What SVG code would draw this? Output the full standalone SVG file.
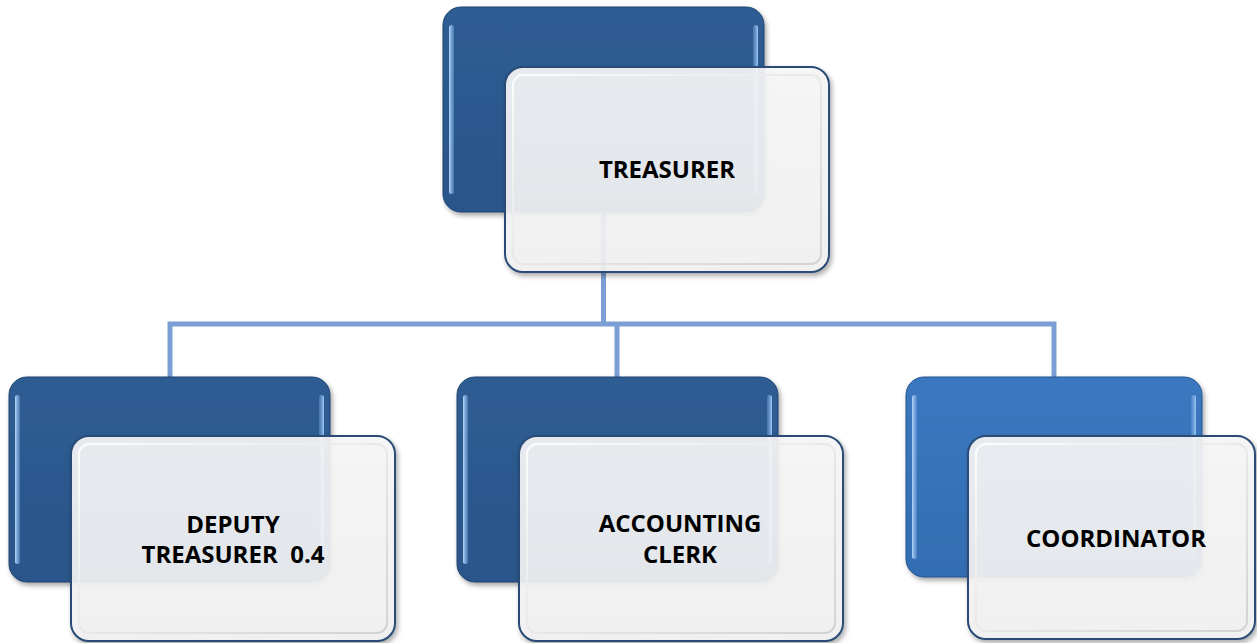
<svg xmlns="http://www.w3.org/2000/svg" width="1257" height="643" viewBox="0 0 1257 643">
<style>
.dark{fill:url(#darkGrad);stroke:#1f4471;stroke-width:1}
.dark2{fill:url(#darkGrad2);stroke:#24558f;stroke-width:1}
.hl{fill:url(#hlGrad)}
.hr{fill:url(#hrGrad)}
.light{fill:url(#lightGrad);fill-opacity:0.9;stroke:#2a4c75;stroke-width:2}
.bevel{fill:none;stroke:url(#bevelGrad);stroke-width:2;opacity:0.9}
.conn{fill:none;stroke:#7b9fd4;stroke-width:5}
.t{font-family:"Open Sans","Liberation Sans",sans-serif;font-weight:bold;font-size:24px;fill:#000;text-anchor:middle;white-space:pre}
</style>
<defs>
<linearGradient id="darkGrad" x1="0" y1="0" x2="0" y2="1">
<stop offset="0" stop-color="#2e5d93"/>
<stop offset="1" stop-color="#29558a"/>
</linearGradient>
<linearGradient id="darkGrad2" x1="0" y1="0" x2="0" y2="1">
<stop offset="0" stop-color="#3b78c0"/>
<stop offset="1" stop-color="#336db2"/>
</linearGradient>
<linearGradient id="hlGrad" x1="0" y1="0" x2="1" y2="0">
<stop offset="0" stop-color="#b5d7fb"/>
<stop offset="1" stop-color="#6a9ad6" stop-opacity="0.5"/>
</linearGradient>
<linearGradient id="hrGrad" x1="0" y1="0" x2="1" y2="0">
<stop offset="0" stop-color="#6a9ad6" stop-opacity="0.4"/>
<stop offset="1" stop-color="#9cc8f6"/>
</linearGradient>
<linearGradient id="lightGrad" x1="0" y1="0" x2="0" y2="1">
<stop offset="0" stop-color="#f8f8f8"/>
<stop offset="1" stop-color="#f3f3f3"/>
</linearGradient>
<linearGradient id="bevelGrad" x1="0" y1="0" x2="1" y2="1">
<stop offset="0" stop-color="#ffffff"/>
<stop offset="0.6" stop-color="#e2e2e2"/>
<stop offset="1" stop-color="#cfcfcf"/>
</linearGradient>
<filter id="shadow" x="-10%" y="-10%" width="125%" height="125%">
<feDropShadow dx="2" dy="3" stdDeviation="2.5" flood-color="#000" flood-opacity="0.35"/>
</filter>
</defs>

<g id="connectors">
<path class="conn" d="M603.5,212 V324 M170,377 V324 H1054 V377 M617,324 V377"/>
</g>

<g id="node-treasurer">
<rect class="dark" x="443" y="7" width="321" height="205" rx="18" filter="url(#shadow)"/>
<rect class="hl" x="449" y="25" width="5" height="169" rx="2.5"/>
<rect class="hr" x="753" y="25" width="5" height="169" rx="2.5"/>
<rect class="light" x="505" y="67" width="324" height="205" rx="18" filter="url(#shadow)"/>
<rect class="bevel" x="513" y="75" width="308" height="189" rx="10"/>
<text class="t" x="667" y="178">TREASURER</text>
</g>

<g id="node-deputy">
<rect class="dark" x="9" y="377" width="321" height="205" rx="18" filter="url(#shadow)"/>
<rect class="hl" x="15" y="395" width="5" height="169" rx="2.5"/>
<rect class="hr" x="319" y="395" width="5" height="169" rx="2.5"/>
<rect class="light" x="71" y="436" width="324" height="205" rx="18" filter="url(#shadow)"/>
<rect class="bevel" x="79" y="444" width="308" height="189" rx="10"/>
<text class="t" x="233" y="533">DEPUTY</text>
<text class="t" x="233" y="563">TREASURER  0.4</text>
</g>

<g id="node-accounting">
<rect class="dark" x="457" y="377" width="321" height="205" rx="18" filter="url(#shadow)"/>
<rect class="hl" x="463" y="395" width="5" height="169" rx="2.5"/>
<rect class="hr" x="767" y="395" width="5" height="169" rx="2.5"/>
<rect class="light" x="519" y="436" width="324" height="205" rx="18" filter="url(#shadow)"/>
<rect class="bevel" x="527" y="444" width="308" height="189" rx="10"/>
<text class="t" x="680" y="532">ACCOUNTING</text>
<text class="t" x="680" y="563">CLERK</text>
</g>

<g id="node-coordinator">
<rect class="dark2" x="906" y="377" width="296" height="200" rx="18" filter="url(#shadow)"/>
<rect class="hl" x="912" y="395" width="5" height="164" rx="2.5"/>
<rect class="hr" x="1191" y="395" width="5" height="164" rx="2.5"/>
<rect class="light" x="968" y="436" width="287" height="203" rx="18" filter="url(#shadow)"/>
<rect class="bevel" x="976" y="444" width="271" height="187" rx="10"/>
<text class="t" x="1116" y="547">COORDINATOR</text>
</g>
</svg>
